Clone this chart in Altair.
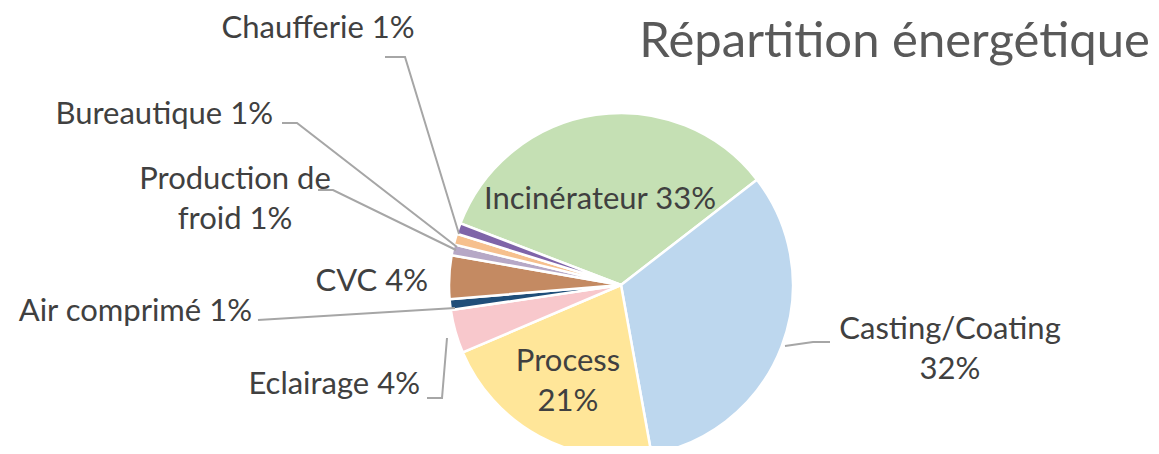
import math
import altair as alt
import pandas as pd

# ---- data ----
categories = ["Incinérateur", "Casting/Coating", "Process", "Eclairage", "Air comprimé",
              "CVC", "Production de froid", "Bureautique", "Chaufferie"]
values = [33, 32, 21, 4, 1, 4, 1, 1, 1]
colors = ["#C5E0B4", "#BDD7EE", "#FFE699", "#F8C8CC", "#1F4E79",
          "#C48A62", "#B6A8C6", "#F6C08E", "#7F64A8"]

# label texts (with line breaks as in the original)
label_texts = ["Incinérateur {v}%", "Casting/Coating\n{v}%", "Process\n{v}%", "Eclairage {v}%",
               "Air comprimé {v}%", "CVC {v}%", "Production de\nfroid {v}%", "Bureautique {v}%",
               "Chaufferie {v}%"]

# ---- layout (pixels inside the 1143x438 view) ----
W, H = 1143, 438
CX, CY, R = 613, 277, 172
START = math.radians(-69)
FONT = "Lato"
LABEL_SIZE = 31

label_pos = [  # x, y (first line), align
    (592, 192, "center"), (942, 322, "center"), (560, 354, "center"), (412, 377, "right"),
    (244, 304, "right"), (420, 274, "right"), (227, 172, "center"), (265, 107, "right"),
    (310, 21, "center"),
]
leaders = {  # polylines from label to slice
    "Casting/Coating": [(822, 334), (805, 334), (777, 338)],
    "Eclairage": [(419, 390), (434, 390), (439, 330)],
    "Air comprimé": [(250, 312), (447, 300)],
    "Production de froid": [(310, 182), (325, 182), (448, 242)],
    "Bureautique": [(274, 115), (289, 115), (449, 239)],
    "Chaufferie": [(377, 49), (397, 49), (451, 226)],
}

pie_df = pd.DataFrame({"cat": categories, "val": values, "order": range(len(categories))})

arc = alt.Chart(pie_df).mark_arc(radius=R, stroke="white", strokeWidth=2.5).encode(
    theta=alt.Theta("val:Q", stack=True, scale=alt.Scale(range=[START, START + 2 * math.pi])),
    color=alt.Color("cat:N", scale=alt.Scale(domain=categories, range=colors), legend=None),
    order=alt.Order("order:Q"),
    x=alt.value(CX), y=alt.value(CY),
)

lab_rows = []
for c, v, t, (px, py, al) in zip(categories, values, label_texts, label_pos):
    lab_rows.append({"cat": c, "text": t.format(v=v), "px": px, "py": py, "al": al})
lab_df = pd.DataFrame(lab_rows)

texts = []
for al in ["left", "center", "right"]:
    sub = lab_df[lab_df.al == al]
    if len(sub) == 0:
        continue
    texts.append(alt.Chart(sub).mark_text(
        align=al, baseline="middle", font=FONT, fontSize=LABEL_SIZE, color="#404040",
        lineBreak="\n", lineHeight=40,
    ).encode(x=alt.X("px:Q", scale=None), y=alt.Y("py:Q", scale=None), text="text:N"))

line_rows = []
for c, pts in leaders.items():
    for i, (px, py) in enumerate(pts):
        line_rows.append({"cat": c, "i": i, "px": px, "py": py})
line_df = pd.DataFrame(line_rows)
lines = alt.Chart(line_df).mark_line(color="#A6A6A6", strokeWidth=2).encode(
    x=alt.X("px:Q", scale=None), y=alt.Y("py:Q", scale=None),
    detail="cat:N", order="i:Q",
)

title = alt.Chart(pd.DataFrame({"t": ["Répartition énergétique"]})).mark_text(
    align="right", baseline="middle", font=FONT, fontSize=49, color="#595959",
).encode(x=alt.value(1142), y=alt.value(34), text="t:N")

chart = alt.layer(arc, lines, *texts, title).properties(
    width=W, height=H, autosize=alt.AutoSizeParams(type="none"), padding=0,
).configure_view(stroke=None)

chart.save("out.html", embed_options={"renderer": "svg", "actions": False})
